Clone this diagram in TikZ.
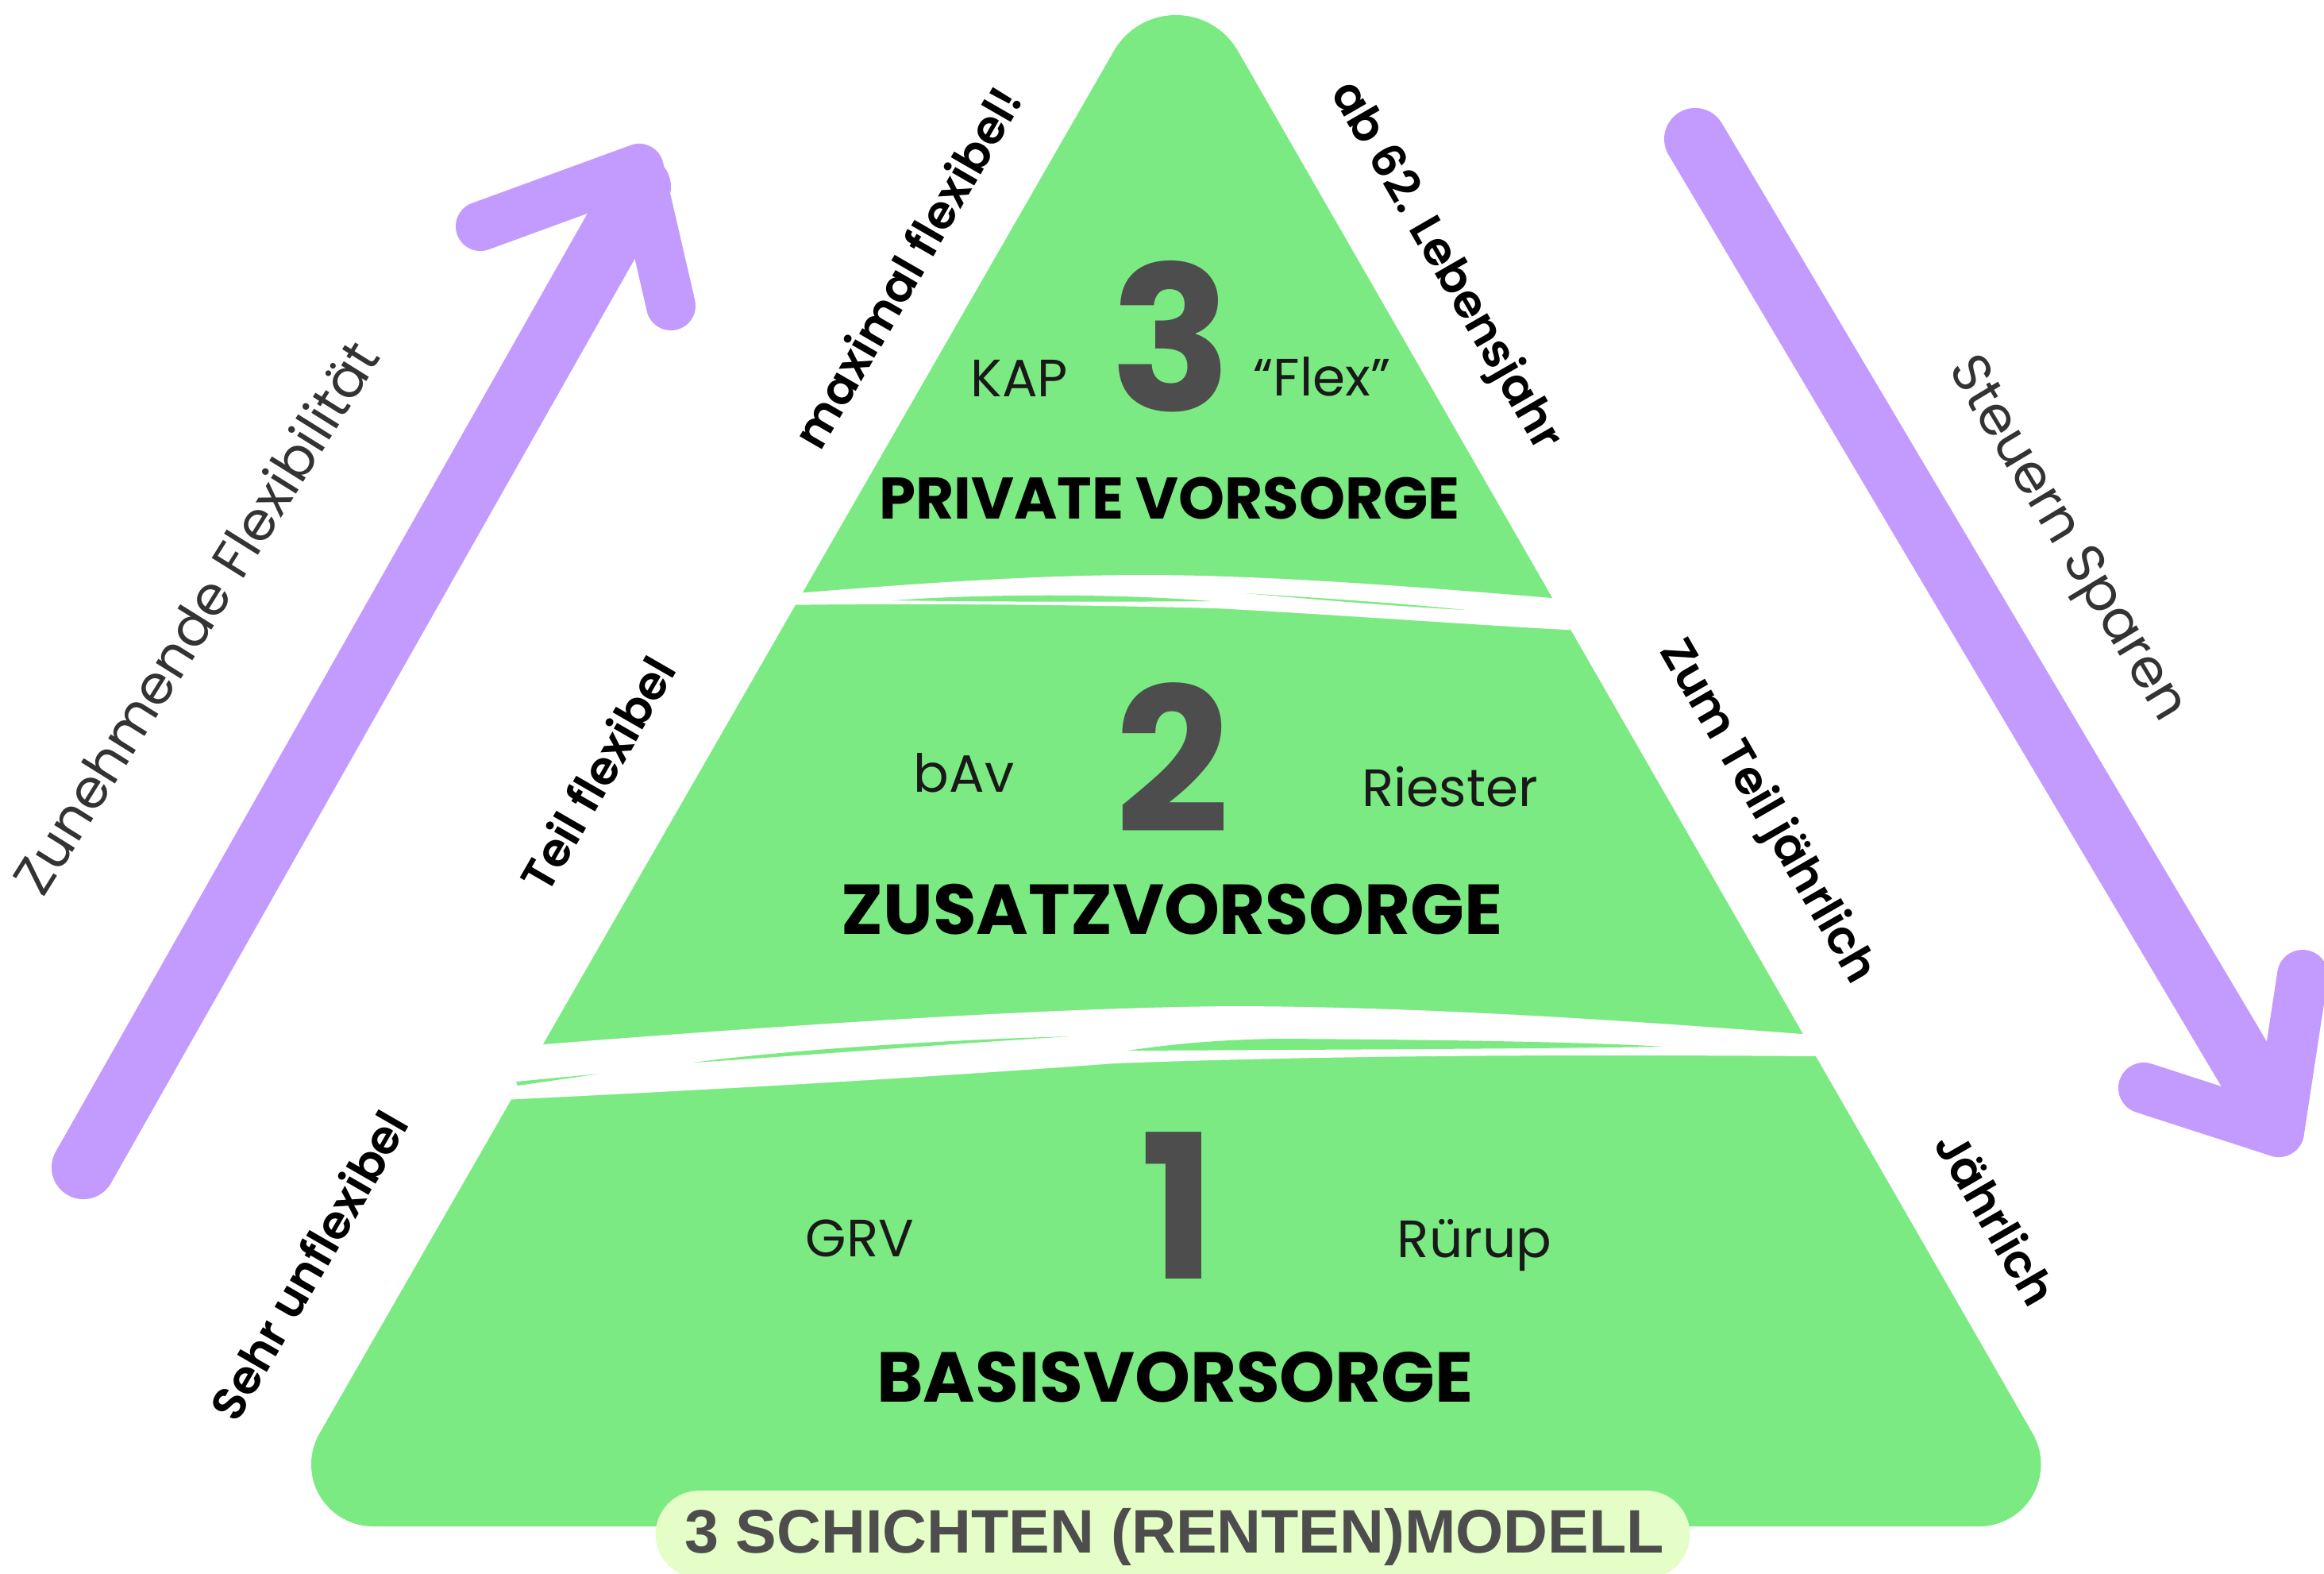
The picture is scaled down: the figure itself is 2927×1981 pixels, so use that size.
\documentclass[tikz,border=0pt]{standalone}
\usepackage{fontspec}
\setmainfont{Poppins}
\newfontfamily\pillfont{Liberation Sans}
\IfFontExistsTF{Poppins SemiBold}{\newfontfamily\semifont{Poppins SemiBold}}{\newfontfamily\semifont{Poppins}[UprightFont=*-Bold]}
\definecolor{pgreen}{HTML}{7BEA82}
\definecolor{ppurple}{HTML}{C39BFE}
\definecolor{ppill}{HTML}{E5FDC6}
\definecolor{pdark}{HTML}{4D4D4D}
\begin{document}
\begin{tikzpicture}[x=0.01cm,y=-0.01cm,
  txt/.style={inner sep=0pt, text depth=0pt, anchor=center},
  digit/.style={txt, text=pdark, font=\fontsize{72}{72}\selectfont\bfseries},
  headsmall/.style={txt, text=black, font=\fontsize{21}{21}\selectfont\bfseries},
  headbig/.style={txt, text=black, font=\fontsize{25.3}{25.3}\selectfont\bfseries},
  item/.style={txt, text=black!90, font=\fontsize{18.8}{18.8}\selectfont},
  sidelabel/.style={txt, text=black, font=\semifont\fontsize{16.6}{16.6}\selectfont},
  arrowlabel/.style={txt, text=black!80, font=\fontsize{19.3}{19.3}\selectfont},
  arrowline/.style={draw=ppurple, line cap=round, line join=round},
  pillbox/.style={fill=ppill, rounded corners=0.55cm, minimum width=13.02cm, minimum height=1.1cm, inner sep=0pt}
]
\clip (0,0) rectangle (2927,1981);
\fill[white] (0,0) rectangle (2927,1981);

% purple arrows
\draw[arrowline, line width=0.8cm] (105,1470) -- (805,235);
\draw[arrowline, line width=0.62cm] (605,285) -- (805,212) -- (845,385);
\draw[arrowline, line width=0.78cm] (2135,175) -- (2862,1400);
\draw[arrowline, line width=0.64cm] (2700,1370) -- (2870,1425) -- (2900,1228);

% pyramid with rounded corners
\fill[pgreen] (1403,64) arc[start angle=150, end angle=30, radius=0.9cm]
  -- (2560,1805) arc[start angle=30, end angle=-90, radius=0.78cm]
  -- (470,1922) arc[start angle=270, end angle=150, radius=0.78cm]
  -- cycle;

% top brush separator
\fill[white] (990,748) .. controls (1150,735) and (1300,724) .. (1441,724)
  .. controls (1600,724) and (1800,740) .. (1990,756) -- (1995,794)
  .. controls (1900,790) and (1700,775) .. (1532,766)
  .. controls (1300,760) and (1100,760) .. (985,762) -- cycle;
\fill[pgreen] (1125,756) .. controls (1250,747) and (1420,748) .. (1525,757)
  .. controls (1400,758) and (1250,758) .. cycle;
\fill[pgreen] (1568,747) .. controls (1680,754) and (1780,761) .. (1845,768)
  .. controls (1770,764) and (1680,757) .. cycle;

% bottom brush separator
\fill[white] (672,1316) .. controls (900,1298) and (1300,1268) .. (1560,1267)
  .. controls (1800,1268) and (2050,1285) .. (2282,1303) -- (2292,1330)
  .. controls (2000,1328) and (1700,1328) .. (1404,1339)
  .. controls (1150,1358) and (900,1372) .. (632,1385) -- cycle;
\fill[pgreen] (873,1338) .. controls (1000,1321) and (1200,1309) .. (1348,1305)
  .. controls (1200,1314) and (1000,1330) .. cycle;
\fill[pgreen] (1420,1323) .. controls (1480,1314) and (1540,1309) .. (1610,1308)
  .. controls (1800,1309) and (2000,1312) .. (2096,1318)
  .. controls (1900,1321) and (1600,1322) .. cycle;
\fill[pgreen] (650,1362) -- (756,1352) -- (652,1367) -- cycle;

% layer 3
\node[digit] (d3) at (1475,423) {3};
\node[item] (kap) at (1284,476) {KAP};
\node[item] (flex) at (1665,474) {“Flex”};
\node[headsmall] (h3) at (1473,627) {PRIVATE VORSORGE};

% layer 2
\node[digit] (d2) at (1477,954) {2};
\node[item] (bav) at (1214,973) {bAv};
\node[item] (riester) at (1826,990) {Riester};
\node[headbig] (h2) at (1476,1145) {ZUSATZVORSORGE};

% layer 1
\node[digit] (d1) at (1484,1518) {1};
\node[item] (grv) at (1083,1559) {GRV};
\node[item] (ruerup) at (1857,1559) {Rürup};
\node[headbig] (h1) at (1480,1734) {BASISVORSORGE};

% side labels
\node[sidelabel, rotate=60] (l3) at (1142,336) {maximal flexibel!};
\node[sidelabel, rotate=60] (l2) at (752,974) {Teil flexibel};
\node[sidelabel, rotate=60] (l1) at (388,1593) {Sehr unflexibel};
\node[sidelabel, rotate=-60] (r3) at (1826,332) {ab 62. Lebensjahr};
\node[sidelabel, rotate=-60] (r2) at (2231,1019) {Zum Teil jährlich};
\node[sidelabel, rotate=-60] (r1) at (2515,1533) {Jährlich};

% arrow labels
\node[arrowlabel, rotate=58] (up) at (246,777) {Zunehmende Flexibilität};
\node[arrowlabel, rotate=-59] (down) at (2608,676) {Steuern Sparen};

% bottom pill
\node[pillbox] (pill) at (1477,1932) {};
\node[txt, text=pdark, font=\pillfont\fontsize{22}{22}\selectfont\bfseries] (title) at (1479,1927) {3 SCHICHTEN (RENTEN)MODELL};
\end{tikzpicture}
\end{document}
